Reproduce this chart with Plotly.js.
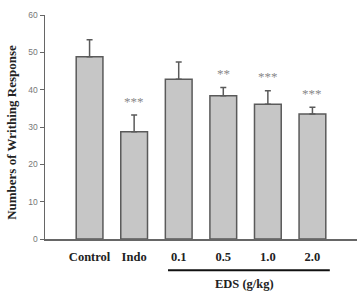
<!DOCTYPE html>
<html>
<head>
<meta charset="utf-8">
<script src="https://cdn.plot.ly/plotly-3.0.1.min.js"></script>
<style>html,body{margin:0;padding:0;background:#fff;}#chart{width:360px;height:292px;}</style>
</head>
<body>
<div id="chart"></div>
<script>
const categories = ["Control", "Indo", "0.1", "0.5", "1.0", "2.0"];
const means = [48.8, 28.7, 42.8, 38.4, 36.1, 33.5];
const sems = [4.6, 4.5, 4.6, 2.2, 3.6, 1.8];
const stars = ["", "***", "", "**", "***", "***"];
const groupLabel = "EDS (g/kg)";
const yTitle = "Numbers of Writhing Response";
const yTicks = [0, 10, 20, 30, 40, 50, 60];

const serif = "Liberation Serif, Times New Roman, serif";

const trace = {
  type: "bar",
  x: categories.map((c, i) => i),
  y: means,
  marker: { color: "#c6c6c6", line: { color: "#5a5a5a", width: 1.5 } },
  width: 0.6,
  error_y: { type: "data", array: sems, arrayminus: sems.map(() => 0), symmetric: false, color: "#5a5a5a", thickness: 1.5, width: 3 },
  hoverinfo: "none"
};

const annotations = [];
stars.forEach((s, i) => {
  if (s) annotations.push({ x: i, y: means[i] + sems[i], xref: "x", yref: "y", text: s, showarrow: false, yshift: 14, font: { family: serif, size: 13, color: "#888" } });
});
annotations.push({ x: 3.47, y: 0, xref: "x", yref: "paper", yanchor: "middle", text: "<b>" + groupLabel + "</b>", showarrow: false, yshift: -45, font: { family: serif, size: 12.5, color: "#222" } });
annotations.push({ x: -0.106, y: 0.478, xref: "paper", yref: "paper", xanchor: "center", yanchor: "middle", textangle: -90, text: "<b>" + yTitle + "</b>", showarrow: false, font: { family: serif, size: 13, color: "#222" } });

const layout = {
  width: 360, height: 292,
  margin: { l: 45, r: 3, t: 15, b: 53 },
  paper_bgcolor: "#fff", plot_bgcolor: "#fff",
  showlegend: false,
  xaxis: {
    range: [-1, 6], tickmode: "array", tickvals: categories.map((c, i) => i),
    ticktext: categories.map(c => "<b>" + c + "</b>"),
    showline: true, linecolor: "#666", linewidth: 1.5, ticks: "", showgrid: false, zeroline: false,
    ticklabelstandoff: 5,
    tickfont: { family: serif, size: 12.5, color: "#222" }
  },
  yaxis: {
    range: [0, 60], tickmode: "array", tickvals: yTicks,
    showline: true, linecolor: "#666", linewidth: 1.5, ticks: "outside", ticklen: 4, tickcolor: "#666", tickwidth: 1,
    showgrid: false, zeroline: false,
    tickfont: { family: "Liberation Sans, Arial, sans-serif", size: 8.5, color: "#777" }
  },
  shapes: [{ type: "line", xref: "x", yref: "paper", x0: 1.76, x1: 5.39, y0: -0.14, y1: -0.14, line: { color: "#111", width: 2 } }],
  annotations: annotations
};

Plotly.newPlot("chart", [trace], layout, { staticPlot: true, displayModeBar: false });
</script>
</body>
</html>
